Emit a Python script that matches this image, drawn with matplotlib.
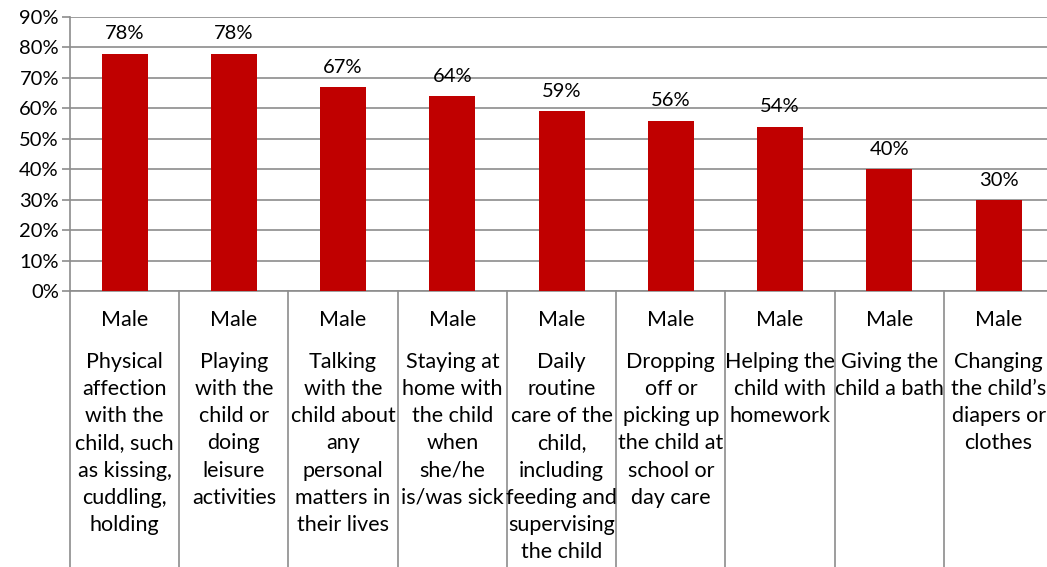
import matplotlib
matplotlib.use("Agg")
from matplotlib import pyplot as plt
from matplotlib import transforms

plt.rcParams['font.family'] = ['Lato', 'DejaVu Sans']

# data
group = ["Male"] * 9
tasks = [
    "Physical\naffection\nwith the\nchild, such\nas kissing,\ncuddling,\nholding",
    "Playing\nwith the\nchild or\ndoing\nleisure\nactivities",
    "Talking\nwith the\nchild about\nany\npersonal\nmatters in\ntheir lives",
    "Staying at\nhome with\nthe child\nwhen\nshe/he\nis/was sick",
    "Daily\nroutine\ncare of the\nchild,\nincluding\nfeeding and\nsupervising\nthe child",
    "Dropping\noff or\npicking up\nthe child at\nschool or\nday care",
    "Helping the\nchild with\nhomework",
    "Giving the\nchild a bath",
    "Changing\nthe child\u2019s\ndiapers or\nclothes",
]
values = [78, 78, 67, 64, 59, 56, 54, 40, 30]
yticks = [0, 10, 20, 30, 40, 50, 60, 70, 80, 90]

W, H = 1047, 567
fig = plt.figure(figsize=(W / 100, H / 100), dpi=100)
ax = fig.add_axes([70 / W, (H - 291) / H, 9 * 109.25 / W, (291 - 17) / H])

grey = "#8c8c8c"
n = len(values)
x = list(range(n))
ax.bar(x, values, width=0.42, color="#C00000", zorder=3)

ax.set_xlim(-0.5, n - 0.5)
ax.set_ylim(0, 90)
ax.set_yticks(yticks)
ax.set_yticklabels([f"{t}%" for t in yticks], fontsize=14.5)
ax.yaxis.grid(True, color=grey, linewidth=1.2, zorder=0)
ax.tick_params(axis='y', length=6, color=grey, width=1.2, pad=2)
ax.set_xticks([])
for s in ["top", "right"]:
    ax.spines[s].set_visible(False)
for s in ["left", "bottom"]:
    ax.spines[s].set_color(grey)
    ax.spines[s].set_linewidth(1.2)

for i, v in enumerate(values):
    ax.annotate(f"{v}%", (i, v), xytext=(0, 8), textcoords="offset points",
                ha="center", va="bottom", fontsize=14.5)

# category table under the axis
trans = transforms.blended_transform_factory(ax.transData, ax.transAxes)
for k in range(n):
    ax.plot([k - 0.5, k - 0.5], [0, -1.1], color=grey, linewidth=1.2,
            transform=trans, clip_on=False)
for i in range(n):
    ax.text(i, -0.106, group[i], transform=trans, ha="center", va="center",
            fontsize=15.5)
    ax.text(i, -0.222, tasks[i], transform=trans, ha="center", va="top",
            fontsize=15.5, linespacing=1.45)

fig.savefig("out.png", dpi=100)
